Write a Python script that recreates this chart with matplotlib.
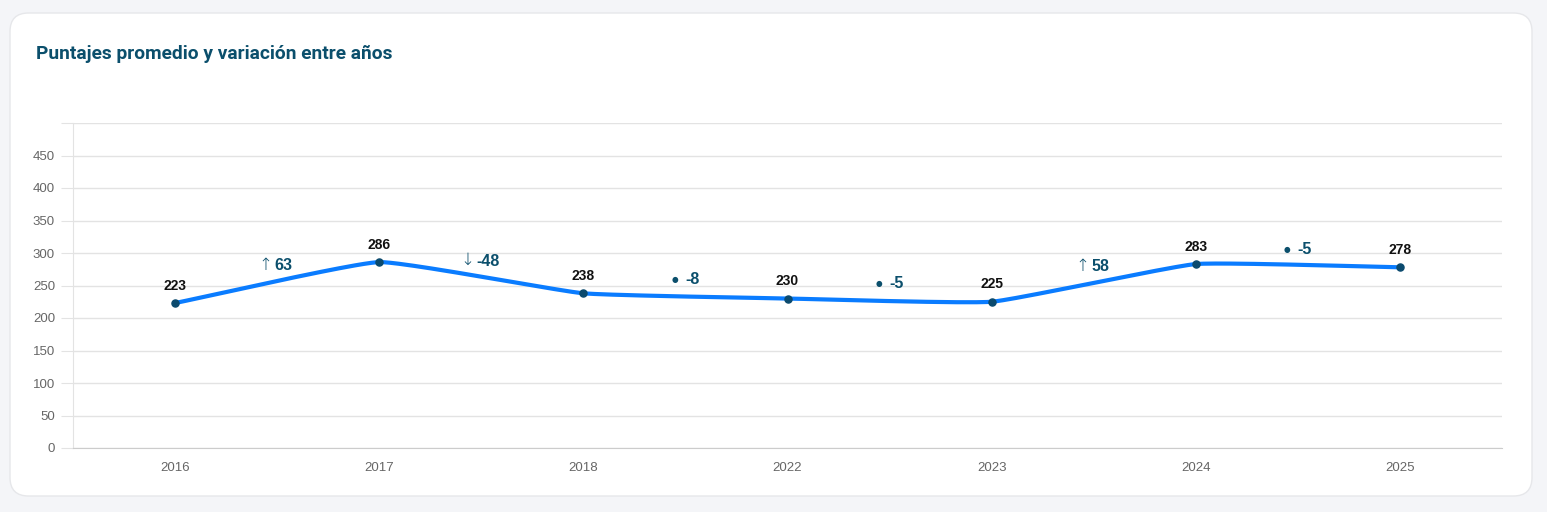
import numpy as np
import matplotlib.pyplot as plt
from matplotlib.patches import FancyBboxPatch

years = ['2016', '2017', '2018', '2022', '2023', '2024', '2025']
scores = [223, 286, 238, 230, 225, 283, 278]
y_ticks = [0, 50, 100, 150, 200, 250, 300, 350, 400, 450, 500]

LINE_BLUE = '#0a7cff'
DOT_NAVY = '#0b4a6e'
TEAL = '#0b4f6c'
GRID = '#e3e3e3'
CHART_FONT = ['Liberation Sans', 'DejaVu Sans']

plt.rcParams['font.family'] = CHART_FONT


def spline_path(pts, tension=0.12, steps=40):
    # chart.js-style bezier through points (given in pixel space)
    pts = np.asarray(pts, float)
    n = len(pts)
    cp_prev = pts.copy()
    cp_next = pts.copy()
    for i in range(n):
        a = pts[max(i - 1, 0)]
        b = pts[i]
        c = pts[min(i + 1, n - 1)]
        d01 = np.hypot(*(b - a))
        d12 = np.hypot(*(c - b))
        tot = d01 + d12
        s01 = d01 / tot if tot else 0
        s12 = d12 / tot if tot else 0
        cp_prev[i] = b - tension * s01 * (c - a)
        cp_next[i] = b + tension * s12 * (c - a)
    t = np.linspace(0, 1, steps)[:, None]
    out = []
    for i in range(n - 1):
        p0, p1, p2, p3 = pts[i], cp_next[i], cp_prev[i + 1], pts[i + 1]
        out.append((1 - t)**3 * p0 + 3 * (1 - t)**2 * t * p1 + 3 * (1 - t) * t**2 * p2 + t**3 * p3)
    return np.vstack(out)


fig = plt.figure(figsize=(15.47, 5.12), dpi=100)
fig.patch.set_facecolor('#f4f5f8')

card = FancyBboxPatch((10 / 1547, 16 / 512), 1522 / 1547, 483 / 512,
                      boxstyle='round,pad=0,rounding_size=0.012',
                      transform=fig.transFigure, facecolor='white',
                      edgecolor='#e6e7ea', linewidth=1, mutation_aspect=1547 / 512,
                      zorder=-10)
fig.patches.append(card)

fig.text(36 / 1547, 1 - 54 / 512, 'Puntajes promedio y variación entre años',
         fontsize=13.75, fontweight='bold', color=TEAL, va='center', ha='left',
         family='Roboto')

ax = fig.add_axes([73 / 1547, 64 / 512, 1429 / 1547, 325 / 512])
ax.set_facecolor('none')
ax.set_zorder(1)
ax.set_xlim(-0.5, len(years) - 0.5)
ax.set_ylim(0, 500)

x = np.arange(len(years))
disp = ax.transData.transform(np.column_stack([x, scores]))
curve = ax.transData.inverted().transform(spline_path(disp))
ax.plot(curve[:, 0], curve[:, 1], color=LINE_BLUE, linewidth=3, solid_capstyle='round', zorder=3)
ax.scatter(x, scores, s=26, color=DOT_NAVY, zorder=4)

for xi, v in zip(x, scores):
    ax.annotate(str(v), (xi, v), xytext=(0, 12.5), textcoords='offset points',
                ha='center', va='center', fontsize=10, fontweight='bold', color='#111111')

renderer = fig.canvas.get_renderer()
for i in range(len(scores) - 1):
    diff = scores[i + 1] - scores[i]
    mid_x = i + 0.5
    mid_y = (scores[i] + scores[i + 1]) / 2
    num = ax.annotate(str(diff), (mid_x, mid_y), xytext=(0, 12), textcoords='offset points',
                      ha='left', va='center', fontsize=11.5, fontweight='bold', color=TEAL)
    num_w = num.get_window_extent(renderer).width * 72 / fig.dpi
    if abs(diff) >= 10:
        sym, sym_size, sym_w, gap, weight = ('↑' if diff > 0 else '↓'), 12, 6, 3.5, 'light'
    else:
        sym, sym_size, sym_w, gap, weight = '●', 5.5, 4, 5.5, 'normal'
    left = -(sym_w + gap + num_w) / 2
    num.xyann = (left + sym_w + gap, 12)
    ax.annotate(sym, (mid_x, mid_y), xytext=(left + sym_w / 2, 12.5 if sym != '●' else 12),
                textcoords='offset points', ha='center', va='center',
                fontsize=sym_size, color=TEAL, family=['DejaVu Sans'], fontweight=weight)

ax.set_xticks(x)
ax.set_xticklabels(years)
ax.set_yticks(y_ticks)
ax.set_yticklabels([str(t) if t < 500 else '' for t in y_ticks])
ax.grid(axis='y', color=GRID, linewidth=1)
ax.set_axisbelow(True)

for side in ['top', 'right']:
    ax.spines[side].set_visible(False)
ax.spines['left'].set_color(GRID)
ax.spines['bottom'].set_color('#cccccc')
ax.tick_params(axis='y', length=9, color=GRID, labelsize=9.5, labelcolor='#666666', pad=4)
ax.tick_params(axis='x', length=0, labelsize=9.5, labelcolor='#666666', pad=10)

fig.savefig('out.png', dpi=100, facecolor=fig.get_facecolor())
